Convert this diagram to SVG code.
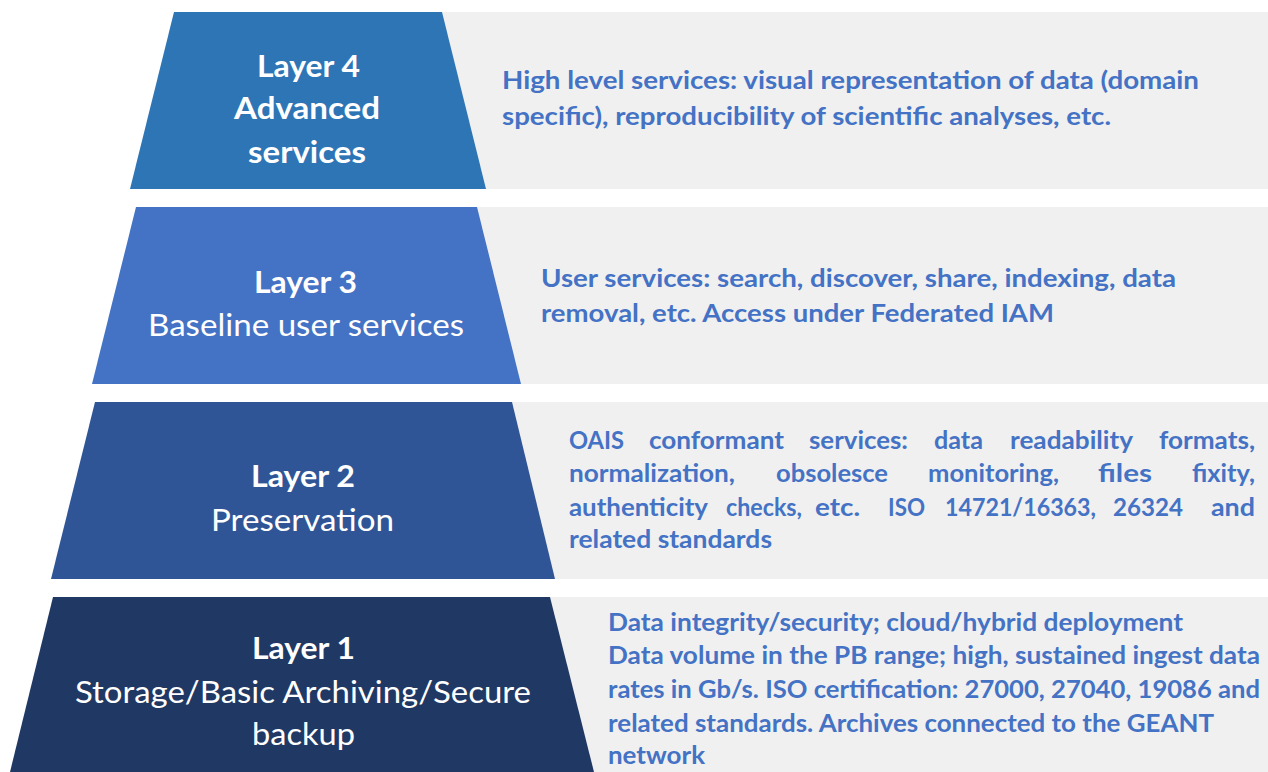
<svg xmlns="http://www.w3.org/2000/svg" width="1268" height="772" viewBox="0 0 1268 772">
<style>
.band{fill:#f0f0f0}
.lbl{font-family:Lato,"Liberation Sans",sans-serif;fill:#ffffff}
.b{font-weight:bold;font-size:30px}
.r{font-weight:normal;font-size:30px}
.desc{font-family:Lato,"Liberation Sans",sans-serif;font-weight:bold;font-size:25px;fill:#4472c4}
</style>
<rect width="1268" height="772" fill="#ffffff"/>
<g id="layer4">
<rect class="band" x="440" y="12" width="828" height="177"/>
<polygon points="174,12 442,12 486,189 130,189" fill="#2e75b6"/>
<text class="lbl b" x="257" y="77" textLength="103" lengthAdjust="spacingAndGlyphs">Layer 4</text>
<text class="lbl b" x="234" y="119" textLength="146" lengthAdjust="spacingAndGlyphs">Advanced</text>
<text class="lbl b" x="248" y="163" textLength="118" lengthAdjust="spacingAndGlyphs">services</text>
<text class="desc" x="502" y="89" textLength="697" lengthAdjust="spacingAndGlyphs">High level services: visual representation of data (domain</text>
<text class="desc" x="502" y="125" textLength="609" lengthAdjust="spacingAndGlyphs">specific), reproducibility of scientific analyses, etc.</text>
</g>
<g id="layer3">
<rect class="band" x="475" y="207" width="793" height="177"/>
<polygon points="136,207 477,207 521,384 92,384" fill="#4472c4"/>
<text class="lbl b" x="254" y="293" textLength="103" lengthAdjust="spacingAndGlyphs">Layer 3</text>
<text class="lbl r" x="148" y="336" textLength="316" lengthAdjust="spacingAndGlyphs">Baseline user services</text>
<text class="desc" x="541" y="287" textLength="635" lengthAdjust="spacingAndGlyphs">User services: search, discover, share, indexing, data</text>
<text class="desc" x="541" y="322" textLength="513" lengthAdjust="spacingAndGlyphs">removal, etc. Access under Federated IAM</text>
</g>
<g id="layer2">
<rect class="band" x="510" y="402" width="758" height="177"/>
<polygon points="95,402 512,402 555,579 51,579" fill="#2f5597"/>
<text class="lbl b" x="251" y="487" textLength="104" lengthAdjust="spacingAndGlyphs">Layer 2</text>
<text class="lbl r" x="211" y="531" textLength="183" lengthAdjust="spacingAndGlyphs">Preservation</text>
<text class="desc" x="569" y="449" textLength="55" lengthAdjust="spacingAndGlyphs">OAIS</text>
<text class="desc" x="649" y="449" textLength="135" lengthAdjust="spacingAndGlyphs">conformant</text>
<text class="desc" x="809" y="449" textLength="99" lengthAdjust="spacingAndGlyphs">services:</text>
<text class="desc" x="934" y="449" textLength="49" lengthAdjust="spacingAndGlyphs">data</text>
<text class="desc" x="1010" y="449" textLength="123" lengthAdjust="spacingAndGlyphs">readability</text>
<text class="desc" x="1159" y="449" textLength="96" lengthAdjust="spacingAndGlyphs">formats,</text>
<text class="desc" x="569" y="482" textLength="166" lengthAdjust="spacingAndGlyphs">normalization,</text>
<text class="desc" x="776" y="482" textLength="112" lengthAdjust="spacingAndGlyphs">obsolesce</text>
<text class="desc" x="928" y="482" textLength="131" lengthAdjust="spacingAndGlyphs">monitoring,</text>
<text class="desc" x="1098" y="482" textLength="54" lengthAdjust="spacingAndGlyphs">files</text>
<text class="desc" x="1192" y="482" textLength="63" lengthAdjust="spacingAndGlyphs">fixity,</text>
<text class="desc" x="569" y="516" textLength="139" lengthAdjust="spacingAndGlyphs">authenticity</text>
<text class="desc" x="726" y="516" textLength="76" lengthAdjust="spacingAndGlyphs">checks,</text>
<text class="desc" x="815" y="516" textLength="45" lengthAdjust="spacingAndGlyphs">etc.</text>
<text class="desc" x="888" y="516" textLength="37" lengthAdjust="spacingAndGlyphs">ISO</text>
<text class="desc" x="945" y="516" textLength="151" lengthAdjust="spacingAndGlyphs">14721/16363,</text>
<text class="desc" x="1113" y="516" textLength="70" lengthAdjust="spacingAndGlyphs">26324</text>
<text class="desc" x="1211" y="516" textLength="44" lengthAdjust="spacingAndGlyphs">and</text>
<text class="desc" x="569" y="548" textLength="203" lengthAdjust="spacingAndGlyphs">related standards</text>
</g>
<g id="layer1">
<rect class="band" x="548" y="597" width="720" height="175"/>
<polygon points="53,597 550,597 594,772 10,772" fill="#203864"/>
<text class="lbl b" x="252" y="659" textLength="103" lengthAdjust="spacingAndGlyphs">Layer 1</text>
<text class="lbl r" x="75" y="703" textLength="456" lengthAdjust="spacingAndGlyphs">Storage/Basic Archiving/Secure</text>
<text class="lbl r" x="252" y="745" textLength="103" lengthAdjust="spacingAndGlyphs">backup</text>
<text class="desc" x="608" y="631" textLength="575" lengthAdjust="spacingAndGlyphs">Data integrity/security; cloud/hybrid deployment</text>
<text class="desc" x="608" y="664" textLength="652" lengthAdjust="spacingAndGlyphs">Data volume in the PB range; high, sustained ingest data</text>
<text class="desc" x="608" y="698" textLength="652" lengthAdjust="spacingAndGlyphs">rates in Gb/s. ISO certification: 27000, 27040, 19086 and</text>
<text class="desc" x="608" y="732" textLength="606" lengthAdjust="spacingAndGlyphs">related standards. Archives connected to the GEANT</text>
<text class="desc" x="608" y="764" textLength="97" lengthAdjust="spacingAndGlyphs">network</text>
</g>
<g id="connectors"/>
</svg>
